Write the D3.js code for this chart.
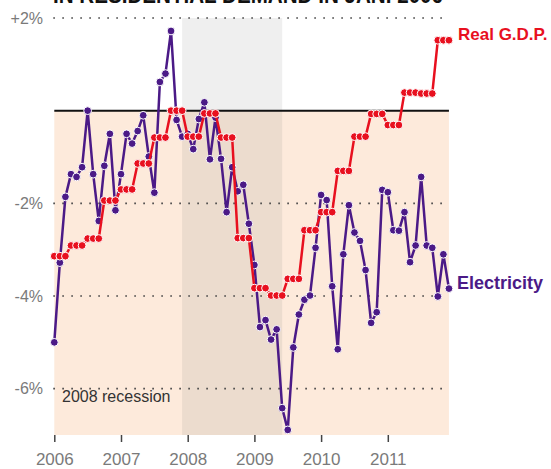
<!DOCTYPE html>
<html>
<head>
<meta charset="utf-8">
<script src="https://cdn.jsdelivr.net/npm/d3@7"></script>
<style>
  body { margin: 0; background: #fff; }
  svg { display: block; }
</style>
</head>
<body>
<svg id="chart" width="551" height="469"></svg>
<script>
// monthly year-over-year change in electricity use, Jan 2006 - Dec 2011
var elecValues = [
  -5.0, -3.28, -1.86, -1.37, -1.43, -1.22, 0.0, -1.37, -2.38, -1.19, -0.50, -2.15,
  -1.37, -0.50, -0.71, -0.44, -0.10, -0.99, -1.77, 0.62, 0.80, 1.72, -0.20, -0.56,
  -0.50, -0.83, -0.18, 0.18, -1.05, -0.15, -1.04, -2.19, -1.22, -1.74, -1.60, -2.44,
  -3.33, -4.67, -4.52, -4.94, -4.72, -6.42, -6.89, -5.11, -4.40, -4.08, -3.99, -2.96,
  -1.82, -1.93, -3.79, -5.15, -3.10, -2.04, -2.63, -2.81, -3.44, -4.58, -4.35, -1.71,
  -1.76, -2.58, -2.59, -2.19, -3.27, -2.91, -1.43, -2.91, -2.96, -4.01, -3.10, -3.84
];
// quarterly real GDP change, Q1 2006 - Q4 2011 (shown once per month)
var gdpQuarterValues = [
  -3.14, -2.91, -2.76, -1.94,
  -1.70, -1.14, -0.58, 0.0,
  -0.56, -0.06, -0.58, -2.75,
  -3.83, -3.99, -3.63, -2.58,
  -2.19, -1.30, -0.56, -0.07,
  -0.31, 0.39, 0.37, 1.52
];
var startYear = 2006;
var yearTicks = [2006, 2007, 2008, 2009, 2010, 2011];
var gridValues = [2, -2, -4, -6];
var gridLabels = ["+2%", "-2%", "-4%", "-6%"];
var recession = [2007 + 11/12, 2009 + 5/12];

var purple = "#4b1a87",
    red = "#e8101f";

var svg = d3.select("#chart");

var x = d3.scaleLinear().domain([2006, 2012]).range([54.3, 454.5]);
var y = d3.scaleLinear().domain([-7, 2]).range([435, 18]);

var elec = elecValues.map(function(v, i){ return {t: startYear + i/12, v: v}; });
var gdp = [];
gdpQuarterValues.forEach(function(v, q){
  for (var k = 0; k < 3; k++) gdp.push({t: startYear + (q*3 + k)/12, v: v});
});
var xEnd = x(elec[elec.length - 1].t);

// title (cut off at the top of the picture)
svg.append("text")
  .attr("x", 53).attr("y", 3)
  .attr("textLength", 390).attr("lengthAdjust", "spacingAndGlyphs")
  .style("font", "bold 24px 'Liberation Sans', Arial, sans-serif")
  .attr("fill", "#111")
  .text("IN RESIDENTIAL DEMAND IN JAN. 2006");

// backgrounds
svg.append("rect")
  .attr("x", x(2006)).attr("y", y(0))
  .attr("width", xEnd - x(2006)).attr("height", y(-7) - y(0))
  .attr("fill", "#fdeadb");
svg.append("rect")
  .attr("x", x(recession[0])).attr("y", y(2))
  .attr("width", x(recession[1]) - x(recession[0])).attr("height", y(0) - y(2))
  .attr("fill", "#efefef");
svg.append("rect")
  .attr("x", x(recession[0])).attr("y", y(0))
  .attr("width", x(recession[1]) - x(recession[0])).attr("height", y(-7) - y(0))
  .attr("fill", "#ecdcce");

// dotted grid
svg.selectAll(".grid").data(gridValues).enter().append("line")
  .attr("class", "grid")
  .attr("x1", x(2006) - 1).attr("x2", xEnd - 2)
  .attr("y1", function(d){ return y(d); }).attr("y2", function(d){ return y(d); })
  .attr("stroke", "#444").attr("stroke-width", 1.6)
  .attr("stroke-dasharray", "1.6,7.4");

svg.selectAll(".ylab").data(gridValues).enter().append("text")
  .attr("class", "ylab")
  .attr("x", 43).attr("y", function(d){ return y(d); })
  .attr("dy", "0.36em").attr("text-anchor", "end")
  .style("font", "16px 'Liberation Sans', Arial, sans-serif")
  .attr("fill", "#7a7a7a")
  .text(function(d, i){ return gridLabels[i]; });

// zero line
svg.append("line")
  .attr("x1", x(2006)).attr("x2", xEnd)
  .attr("y1", y(0)).attr("y2", y(0))
  .attr("stroke", "#111").attr("stroke-width", 2);

// x axis
var xAxis = svg.append("g")
  .attr("transform", "translate(0," + y(-7) + ")")
  .call(d3.axisBottom(x).tickValues(yearTicks).tickFormat(d3.format("d")).tickSize(7).tickPadding(11));
xAxis.select(".domain").remove();
xAxis.selectAll(".tick line").attr("stroke", "#444").attr("stroke-width", 1.5);
xAxis.selectAll(".tick text")
  .style("font", "17px 'Liberation Sans', Arial, sans-serif")
  .attr("fill", "#7a7a7a");

// recession label
svg.append("text")
  .attr("x", 62).attr("y", 402)
  .style("font", "16px 'Liberation Sans', Arial, sans-serif")
  .attr("fill", "#333")
  .text("2008 recession");

var line = d3.line()
  .x(function(d){ return x(d.t); })
  .y(function(d){ return y(d.v); });

// electricity
svg.append("path").datum(elec)
  .attr("d", line).attr("fill", "none")
  .attr("stroke", purple).attr("stroke-width", 2.5).attr("stroke-linejoin", "round");
svg.selectAll(".edot").data(elec).enter().append("circle")
  .attr("class", "edot")
  .attr("cx", function(d){ return x(d.t); })
  .attr("cy", function(d){ return y(d.v); })
  .attr("r", 3.9)
  .attr("fill", purple).attr("stroke", "#fff").attr("stroke-width", 1);

// real GDP
svg.append("path").datum(gdp)
  .attr("d", line).attr("fill", "none")
  .attr("stroke", red).attr("stroke-width", 2.5).attr("stroke-linejoin", "round");
svg.selectAll(".gdot").data(gdp).enter().append("circle")
  .attr("class", "gdot")
  .attr("cx", function(d){ return x(d.t); })
  .attr("cy", function(d){ return y(d.v); })
  .attr("r", 3.9)
  .attr("fill", red).attr("stroke", "#fff").attr("stroke-width", 1);

// series labels
svg.append("text")
  .attr("x", 458).attr("y", 40)
  .style("font", "bold 17px 'Liberation Sans', Arial, sans-serif")
  .attr("fill", red)
  .text("Real G.D.P.");
svg.append("text")
  .attr("x", 457).attr("y", 289)
  .style("font", "bold 18px 'Liberation Sans', Arial, sans-serif")
  .attr("fill", purple)
  .text("Electricity");
</script>
</body>
</html>
